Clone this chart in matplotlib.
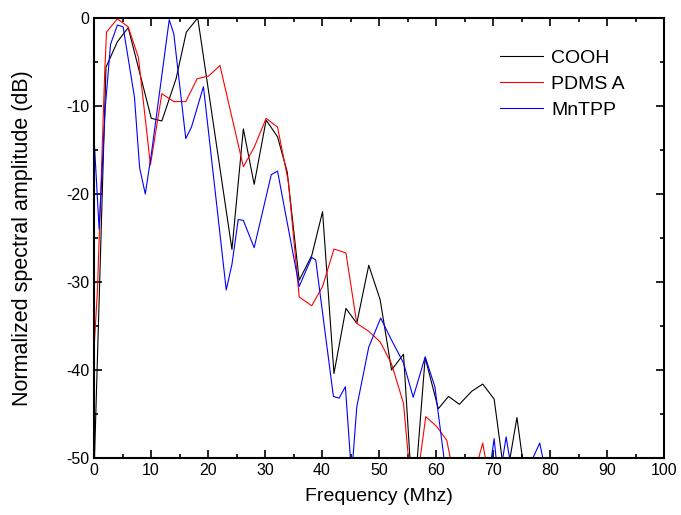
import matplotlib
matplotlib.use("Agg")
import matplotlib.pyplot as plt
from matplotlib.ticker import MultipleLocator

plt.rcParams['font.family'] = ['Liberation Sans', 'DejaVu Sans']
plt.rcParams['axes.unicode_minus'] = False

# COOH (black)
cooh_f = [0.0, 2.1, 4.1, 6.0, 10.05, 11.9, 14.4, 16.2, 18.2, 24.2, 26.2, 28.1, 30.2, 32.2, 33.9,
          36.0, 38.2, 40.1, 42.1, 44.2, 46.1, 48.2, 50.2, 52.2, 54.3, 56.0, 58.1, 60.4, 62.2,
          64.1, 66.3, 68.2, 70.2, 72.2, 74.2, 76.2]
cooh_db = [-52, -5.6, -2.7, -1.1, -11.4, -11.7, -6.9, -1.6, 0.0, -26.3, -12.6, -18.9, -11.6, -13.5, -17.5,
           -29.8, -27.0, -22.0, -40.4, -33.0, -34.7, -28.1, -32.0, -40.0, -38.2, -56, -38.6, -44.4, -43.0,
           -43.9, -42.4, -41.6, -43.3, -53, -45.4, -55]

# PDMS A (red)
pdms_f = [0.0, 0.6, 1.9, 2.2, 4.1, 6.0, 7.8, 9.9, 11.9, 14.0, 16.1, 18.1, 20.1, 22.1, 26.2, 28.1,
          30.2, 32.2, 34.1, 36.0, 38.2, 40.1, 42.1, 44.2, 46.1, 48.2, 50.2, 52.2, 54.3, 56.0,
          58.2, 60.1, 61.9, 64.0, 66.2, 68.2, 70.0]
pdms_db = [-37.7, -31, -5.8, -1.6, -0.1, -1.0, -4.5, -16.7, -8.6, -9.5, -9.5, -6.9, -6.6, -5.4, -16.9, -14.7,
           -11.4, -12.4, -18.6, -31.7, -32.7, -30.5, -26.25, -26.7, -34.7, -35.6, -36.8, -39.3, -43.8, -56,
           -45.3, -46.4, -48.0, -55, -53, -48.3, -55]

# MnTPP (blue)
mntpp_f = [0.0, 0.9, 2.0, 2.9, 4.1, 5.1, 7.1, 8.0, 9.0, 10.05, 13.2, 14.0, 16.1, 17.1, 19.2, 23.2,
           24.2, 25.3, 26.2, 28.1, 31.1, 32.2, 36.0, 38.2, 38.9, 42.0, 43.0, 44.1, 45.2, 46.1,
           48.2, 50.3, 52.2, 54.3, 56.0, 58.1, 59.8, 61.6, 63.5, 65.5, 67.5, 69.3, 70.2, 71.0,
           72.3, 73.4, 75.5, 76.3, 78.2, 80.0]
mntpp_db = [-13.5, -24, -10, -3, -0.8, -1.0, -9, -17, -20, -15.5, -0.2, -1.8, -13.7, -12.4, -7.8, -30.9,
            -28, -22.9, -23.0, -26.1, -17.8, -17.4, -30.5, -27.2, -27.5, -43.0, -43.2, -41.9, -52, -44.2,
            -37.4, -34.1, -36.6, -39.2, -43.1, -38.5, -41.9, -51, -55, -56, -55, -52, -47.8, -53,
            -47.6, -52, -56, -51, -48.3, -54]

labels = ["COOH", "PDMS A", "MnTPP"]
colors = ["#000000", "#ff0000", "#0000ff"]

fig = plt.figure(figsize=(6.81, 5.15), dpi=100)
ax = fig.add_axes([94/681, 1-458/515, 570/681, 440/515])

ax.plot(cooh_f, cooh_db, color=colors[0], lw=0.8, label=labels[0])
ax.plot(pdms_f, pdms_db, color=colors[1], lw=0.8, label=labels[1])
ax.plot(mntpp_f, mntpp_db, color=colors[2], lw=0.8, label=labels[2])

ax.set_xlim(0, 100)
ax.set_ylim(-50, 0)
ax.xaxis.set_major_locator(MultipleLocator(10))
ax.xaxis.set_minor_locator(MultipleLocator(5))
ax.yaxis.set_major_locator(MultipleLocator(10))
ax.yaxis.set_minor_locator(MultipleLocator(5))
ax.tick_params(which='both', direction='in', top=True, right=True, labelsize=11.5, width=1.2)
ax.tick_params(which='major', length=6)
ax.tick_params(which='minor', length=3)
for s in ax.spines.values():
    s.set_linewidth(1.5)

ax.set_xlabel("Frequency (Mhz)", fontsize=14, labelpad=7)
ax.set_ylabel("Normalized spectral amplitude (dB)", fontsize=15.5, labelpad=24)

ax.legend(loc='upper left', bbox_to_anchor=(0.712, 0.928), frameon=False, fontsize=14,
          borderpad=0, borderaxespad=0, handlelength=2.2, handletextpad=0.45, labelspacing=0.42)

fig.savefig("out.png", dpi=100)
